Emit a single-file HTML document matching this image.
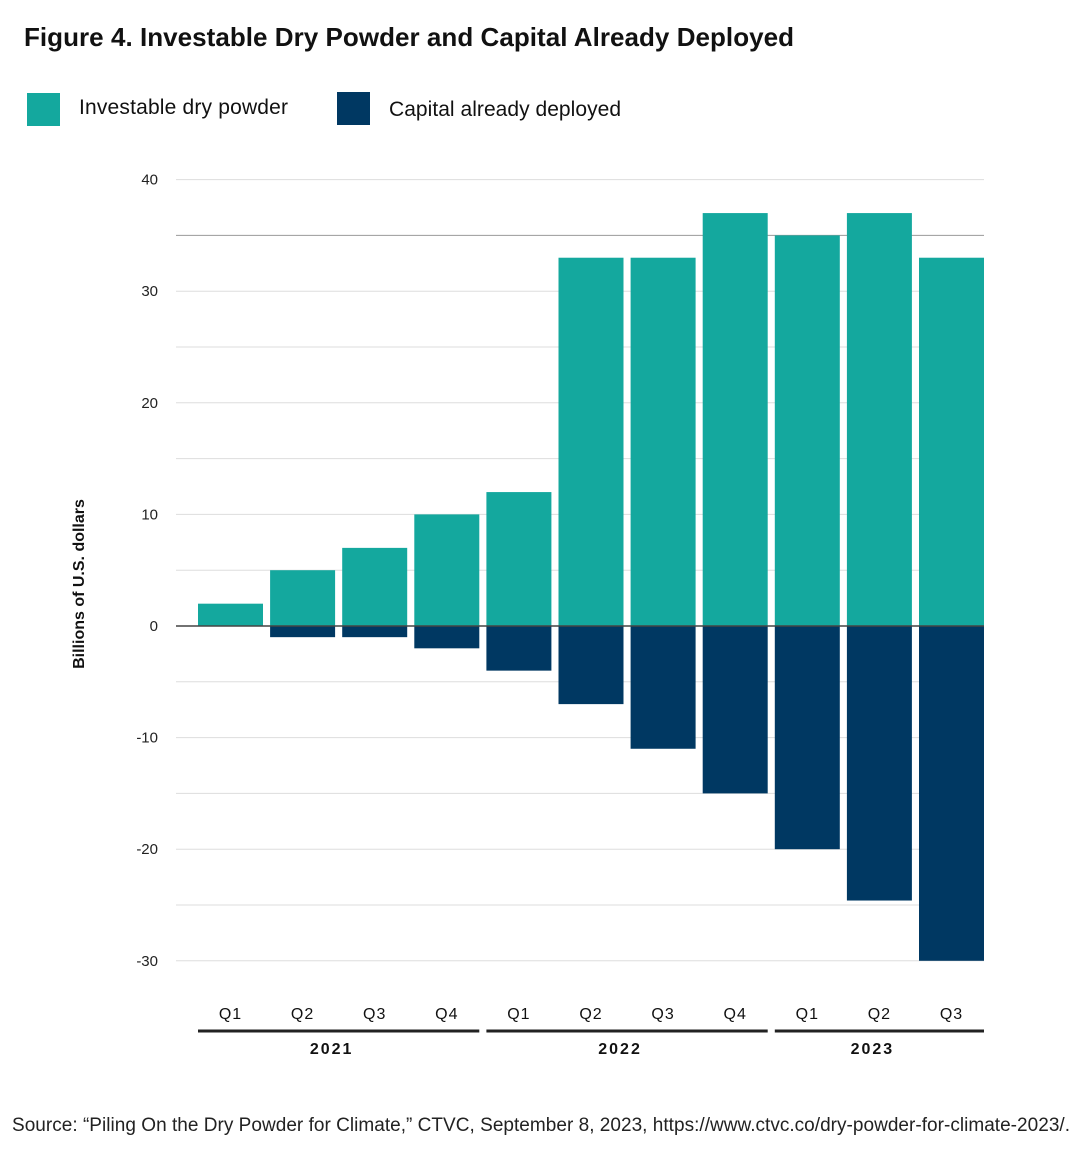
<!DOCTYPE html>
<html><head><meta charset="utf-8"><style>
body{margin:0;background:#fff;font-family:"Liberation Sans",sans-serif;}
svg text{font-family:"Liberation Sans",sans-serif;}
</style></head><body>
<svg width="1080" height="1160" xmlns="http://www.w3.org/2000/svg">
<text x="24" y="46" font-size="26" font-weight="bold" fill="#111" textLength="770">Figure 4. Investable Dry Powder and Capital Already Deployed</text>
<g>
<rect x="27" y="93" width="33" height="33" fill="#14a89e"/>
<text x="79" y="114" font-size="21" fill="#111" textLength="209">Investable dry powder</text>
<rect x="337" y="92" width="33" height="33" fill="#003862"/>
<text x="389" y="116" font-size="21" fill="#111" textLength="232">Capital already deployed</text>
</g>
<g id="grid"></g><g id="bars"></g><g id="axis"></g>
<text transform="translate(84,584) rotate(-90)" text-anchor="middle" font-size="16" font-weight="bold" fill="#111">Billions of U.S. dollars</text>
<text x="12" y="1131" font-size="19" fill="#222" textLength="1058">Source: “Piling On the Dry Powder for Climate,” CTVC, September 8, 2023, https://www.ctvc.co/dry-powder-for-climate-2023/.</text>
</svg>
<script>
const quarters=["Q1","Q2","Q3","Q4","Q1","Q2","Q3","Q4","Q1","Q2","Q3"];
const dryPowder=[2,5,7,10,12,33,33,37,35,37,33];
const deployed=[0,-1,-1,-2,-4,-7,-11,-15,-20,-24.6,-30];
const yTicks=[40,30,20,10,0,-10,-20,-30];
const years=["2021","2022","2023"];
const yearSpans=[[0,3],[4,7],[8,10]];
const NS="http://www.w3.org/2000/svg";
const y=v=>626-v*11.16;
const x0=198,step=72.1,bw=65;
const bx=i=>x0+i*step;
function mk(t,a,p){const e=document.createElementNS(NS,t);for(const k in a)e.setAttribute(k,a[k]);p.appendChild(e);return e;}
const g=document.getElementById('grid'),b=document.getElementById('bars'),ax=document.getElementById('axis');
for(let v=-30;v<=40;v+=5){if(v===0)continue;
const l=mk('line',{x1:176,x2:984,y1:y(v),y2:y(v),stroke:v===35?'#999':'#ddd','stroke-width':1},g);

}
yTicks.forEach(v=>{const t=mk('text',{x:158,y:y(v)+5,'text-anchor':'end','font-size':15,fill:'#222'},ax);t.textContent=v;

});
quarters.forEach((q,i)=>{
const r=mk('rect',{x:bx(i),y:y(dryPowder[i]),width:bw,height:y(0)-y(dryPowder[i]),fill:'#14a89e'},b);


const r2=mk('rect',{x:bx(i),y:y(0),width:bw,height:y(deployed[i])-y(0),fill:'#003862'},b);


const t=mk('text',{x:bx(i)+bw/2,y:1019,'text-anchor':'middle','font-size':16,fill:'#111','letter-spacing':1},ax);t.textContent=q;

});
const z=mk('line',{x1:176,x2:984,y1:y(0),y2:y(0),stroke:'#444','stroke-width':1.5},ax);


years.forEach((yr,k)=>{const a=bx(yearSpans[k][0]),e=bx(yearSpans[k][1])+bw;
const l=mk('line',{x1:a,x2:e,y1:1031,y2:1031,stroke:'#222','stroke-width':3},ax);


const t=mk('text',{x:(a+e)/2-7,y:1054,'text-anchor':'middle','font-size':16,'font-weight':'bold',fill:'#111','letter-spacing':2},ax);t.textContent=yr;

});
</script>
</body></html>
